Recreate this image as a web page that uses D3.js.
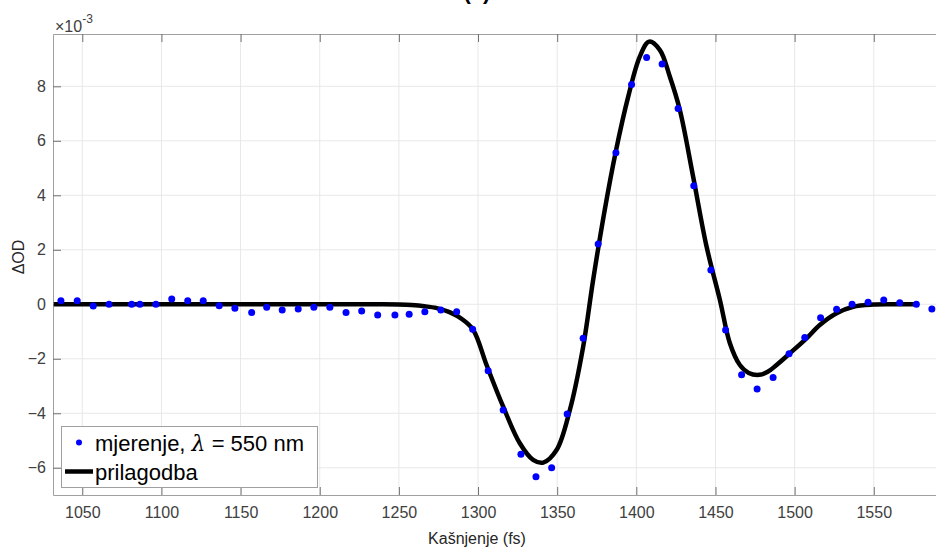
<!DOCTYPE html>
<html>
<head>
<meta charset="utf-8">
<script src="https://cdn.jsdelivr.net/npm/d3@7"></script>
<style>
  body { margin: 0; background: #fff; }
  svg { display: block; font-family: "Liberation Sans", Arial, sans-serif; }
</style>
</head>
<body>
<div id="chart"></div>
<script>
// measured points: delay (fs) and ΔOD (x 1e-3)
const delayFs = [1036.5, 1046.8, 1056.9, 1066.9, 1081.2, 1086.4, 1096.5, 1106.5, 1116.6, 1126.4,
  1136.5, 1146.4, 1157.0, 1166.5, 1176.3, 1186.4, 1196.3, 1206.4, 1216.6, 1226.5,
  1236.6, 1247.5, 1256.5, 1266.4, 1276.5, 1286.5, 1296.6, 1306.4, 1315.9, 1327.1,
  1336.6, 1346.5, 1356.3, 1366.4, 1375.9, 1387.1, 1397.0, 1406.5, 1416.3, 1426.4,
  1436.3, 1447.1, 1456.4, 1466.5, 1476.3, 1486.4, 1496.5, 1506.4, 1516.4, 1526.5,
  1536.3, 1546.4, 1556.3, 1566.4, 1576.9, 1586.7];
const measured = [0.13, 0.13, -0.06, 0.0, 0.0, 0.0, 0.0, 0.19, 0.13, 0.13,
  -0.05, -0.15, -0.3, -0.11, -0.21, -0.17, -0.11, -0.11, -0.3, -0.25,
  -0.39, -0.39, -0.37, -0.27, -0.21, -0.27, -0.92, -2.44, -3.88, -5.5,
  -6.33, -6.0, -4.03, -1.25, 2.21, 5.56, 8.07, 9.06, 8.82, 7.19,
  4.35, 1.26, -0.94, -2.59, -3.11, -2.69, -1.82, -1.22, -0.49, -0.18,
  0.0, 0.07, 0.16, 0.06, 0.0, -0.17];

// fitted curve
const fitDelay = [1032, 1150, 1240, 1250, 1258, 1266, 1274, 1282, 1290, 1297,
  1305.4, 1315.9, 1326.4, 1334.8, 1341.2, 1349.6, 1358, 1366.4, 1372.7, 1380,
  1387, 1395, 1402.2, 1408.1, 1414.9, 1421.2, 1427.5, 1435.9, 1444.4, 1452.8,
  1459.1, 1465.4, 1471, 1477.6, 1483, 1488.6, 1497, 1507.5, 1515.9, 1526.5,
  1537, 1549.6, 1562, 1577];
const fitValue = [0, 0, 0, -0.01, -0.03, -0.07, -0.14, -0.29, -0.55, -0.94,
  -2.23, -3.76, -5.1, -5.71, -5.81, -5.35, -3.88, -1.56, 0.89, 3.45,
  5.6, 7.65, 9.09, 9.64, 9.33, 8.35, 7.13, 4.68, 2.11, 0.16,
  -1.43, -2.23, -2.52, -2.59, -2.48, -2.23, -1.8, -1.25, -0.76, -0.33,
  -0.09, -0.01, 0, 0];

const xTicks = [1050, 1100, 1150, 1200, 1250, 1300, 1350, 1400, 1450, 1500, 1550];
const yTicks = [-6, -4, -2, 0, 2, 4, 6, 8];

const width = 936, height = 550;
const plotLeft = 53, plotTop = 34, plotBottom = 495, plotRight = 964;

const svg = d3.select("#chart").append("svg")
  .attr("width", width).attr("height", height);

const x = d3.scaleLinear().domain([1031.5, 1607]).range([plotLeft, plotRight]);
const y = d3.scaleLinear().domain([-7, 9.92]).range([plotBottom, plotTop]);

// grid
const grid = svg.append("g").attr("stroke", "#e8e8e8").attr("stroke-width", 1);
grid.selectAll(".gx").data(xTicks).enter().append("line")
  .attr("x1", d => x(d)).attr("x2", d => x(d))
  .attr("y1", plotTop).attr("y2", plotBottom);
grid.selectAll(".gy").data(yTicks).enter().append("line")
  .attr("x1", plotLeft).attr("x2", plotRight)
  .attr("y1", d => y(d)).attr("y2", d => y(d));

// axes (MATLAB style, ticks inward)
const xAxis = svg.append("g").attr("transform", "translate(0," + plotBottom + ")")
  .call(d3.axisBottom(x).tickValues(xTicks).tickFormat(d3.format("d"))
    .tickSizeInner(-8).tickSizeOuter(0));
const xTop = svg.append("g").attr("transform", "translate(0," + plotTop + ")")
  .call(d3.axisTop(x).tickValues(xTicks).tickSizeInner(-8).tickSizeOuter(0).tickFormat(""));
const yAxis = svg.append("g").attr("transform", "translate(" + plotLeft + ",0)")
  .call(d3.axisLeft(y).tickValues(yTicks).tickSizeInner(-8).tickSizeOuter(0).tickPadding(7));

[xAxis, xTop, yAxis].forEach(function (g) {
  g.select(".domain").attr("stroke", "#a0a0a0");
  g.selectAll(".tick line").attr("stroke", "#707070");
  g.selectAll("text").attr("fill", "#404040").style("font-size", "16px")
    .style("font-family", "'Liberation Sans', Arial, sans-serif");
});
xAxis.selectAll("text").attr("dy", "0.71em").attr("y", 12);

// exponent
const expo = svg.append("text").attr("x", 55).attr("y", 32)
  .attr("fill", "#404040").style("font-size", "16px");
expo.append("tspan").text("×10");
expo.append("tspan").attr("dy", -9).style("font-size", "12px").text("-3");

// labels
svg.append("text").attr("x", 477).attr("y", 544)
  .attr("text-anchor", "middle").attr("fill", "#262626").style("font-size", "16px")
  .text("Kašnjenje (fs)");
svg.append("text").attr("transform", "translate(24,257) rotate(-90)")
  .attr("text-anchor", "middle").attr("fill", "#262626").style("font-size", "16px")
  .text("ΔOD");
svg.append("text").attr("x", 477).attr("y", -1)
  .attr("text-anchor", "middle").attr("fill", "#000").style("font-size", "22px")
  .style("font-weight", "bold").text("(c)");

// fit line
const line = d3.line().x((d, i) => x(fitDelay[i])).y(d => y(d))
  .curve(d3.curveCatmullRom.alpha(0.5));
svg.append("path").datum(fitValue)
  .attr("d", line).attr("fill", "none")
  .attr("stroke", "#000").attr("stroke-width", 4.5).attr("stroke-linejoin", "round");

// measurements
svg.append("g").selectAll("circle").data(measured).enter().append("circle")
  .attr("cx", (d, i) => x(delayFs[i])).attr("cy", d => y(d))
  .attr("r", 3.5).attr("fill", "#0000ff");

// legend
const lg = svg.append("g");
lg.append("rect").attr("x", 61.5).attr("y", 426.5).attr("width", 256).attr("height", 61)
  .attr("fill", "#fff").attr("stroke", "#a0a0a0").attr("stroke-width", 1);
lg.append("circle").attr("cx", 79).attr("cy", 442.5).attr("r", 3).attr("fill", "#0000ff");
const t1 = lg.append("text").attr("x", 95).attr("y", 451).attr("fill", "#000").style("font-size", "22px");
t1.append("tspan").text("mjerenje, ");
t1.append("tspan").style("font-style", "italic").style("font-family", "'DejaVu Serif', serif").text("λ");
t1.append("tspan").text(" = 550 nm");
lg.append("line").attr("x1", 65).attr("x2", 93).attr("y1", 471.5).attr("y2", 471.5)
  .attr("stroke", "#000").attr("stroke-width", 4.5);
lg.append("text").attr("x", 95).attr("y", 480).attr("fill", "#000").style("font-size", "22px")
  .text("prilagodba");
</script>
</body>
</html>
